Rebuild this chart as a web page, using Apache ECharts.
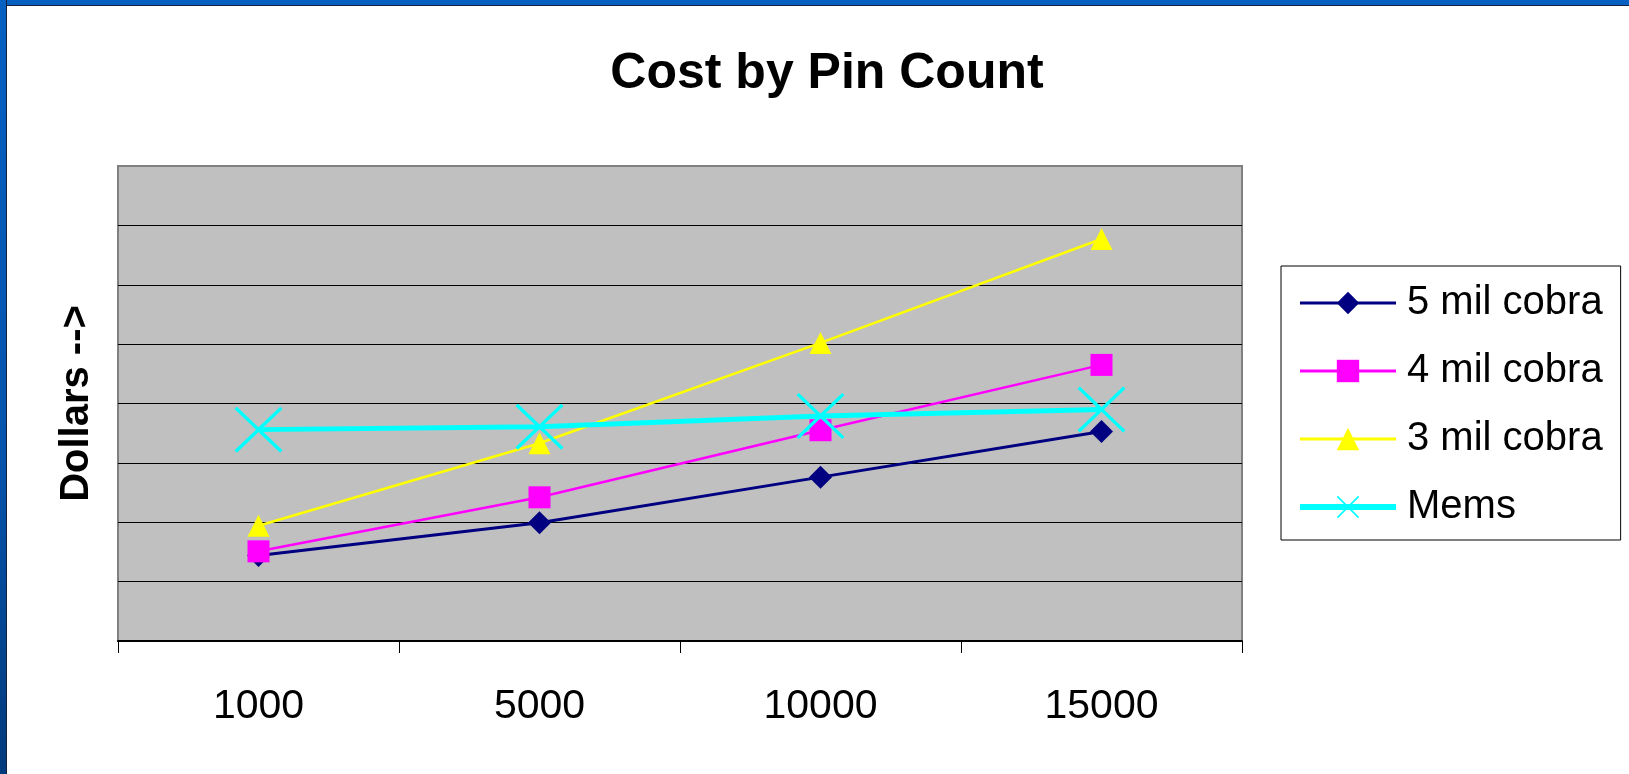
<!DOCTYPE html>
<html>
<head>
<meta charset="utf-8">
<script src="https://cdn.jsdelivr.net/npm/echarts@6/dist/echarts.min.js"></script>
<style>
  html, body { margin: 0; padding: 0; background: #ffffff; }
  #frameTop { position: absolute; left: 0; top: 0; width: 1629px; height: 5px; background: #0560c2; border-bottom: 1px solid #14213d; }
  #frameLeft { position: absolute; left: 0; top: 0; width: 6px; height: 774px; background: linear-gradient(#0560c2, #0553ab 60%, #023a7c); border-right: 1px solid #14213d; }
  #chart { position: absolute; left: 0; top: 0; width: 1629px; height: 774px; }
</style>
</head>
<body>
<div id="frameTop"></div>
<div id="frameLeft"></div>
<div id="chart"></div>
<script>
// ---- data ----
const categories = ['1000', '5000', '10000', '15000'];
const seriesNames = ['5 mil cobra', '4 mil cobra', '3 mil cobra', 'Mems'];
const cobra5 = [1.44, 1.99, 2.76, 3.53];
const cobra4 = [1.51, 2.42, 3.55, 4.65];
const cobra3 = [1.94, 3.33, 5.02, 6.77];
const mems   = [3.56, 3.61, 3.79, 3.90];

const font = 'Arial, "Liberation Sans", sans-serif';
const xPath = 'path://M0,0.5 L0.5,0 L10,9.5 L9.5,10 Z M9.5,0 L10,0.5 L0.5,10 L0,9.5 Z';

const chart = echarts.init(document.getElementById('chart'), null, { renderer: 'canvas' });
chart.setOption({
  backgroundColor: 'transparent',
  animation: false,
  title: {
    text: 'Cost by Pin Count',
    left: 822,
    textAlign: 'center',
    top: 44,
    textStyle: { fontFamily: font, fontWeight: 'bold', fontSize: 50, color: '#000', lineHeight: 50 }
  },
  legend: {
    orient: 'vertical',
    left: 1281,
    top: 266,
    padding: [17, 18, 13, 16],
    itemWidth: 96,
    itemHeight: 28,
    itemGap: 28,
    borderColor: '#000',
    borderWidth: 1,
    backgroundColor: '#fff',
    data: [
      { name: seriesNames[0], lineStyle: { width: 3 } },
      { name: seriesNames[1], lineStyle: { width: 3 } },
      { name: seriesNames[2], lineStyle: { width: 3 } },
      { name: seriesNames[3], lineStyle: { width: 6 } }
    ],
    textStyle: { fontFamily: font, fontSize: 40, color: '#000', lineHeight: 40, padding: [0, 0, 0, 6] }
  },
  grid: {
    left: 118, top: 166, right: 387, bottom: 133,
    show: true,
    backgroundColor: '#c0c0c0',
    borderColor: '#808080',
    borderWidth: 2
  },
  xAxis: {
    type: 'category',
    data: categories,
    boundaryGap: true,
    axisLine: { show: true, lineStyle: { color: '#000', width: 2 } },
    axisTick: { show: true, inside: false, length: 12, lineStyle: { color: '#000', width: 1 } },
    axisLabel: { fontFamily: font, fontSize: 41, color: '#000', margin: 45 },
    splitLine: { show: false }
  },
  yAxis: {
    type: 'value',
    min: 0, max: 8, interval: 1,
    name: 'Dollars -->',
    nameLocation: 'middle',
    nameGap: 21,
    nameTextStyle: { fontFamily: font, fontWeight: 'bold', fontSize: 40, color: '#000' },
    axisLabel: { show: false },
    axisTick: { show: false },
    axisLine: { show: false },
    splitLine: { show: true, showMinLine: false, showMaxLine: false, lineStyle: { color: '#000', width: 1 } }
  },
  series: [
    {
      name: seriesNames[0], type: 'line', data: cobra5,
      symbol: 'diamond', symbolSize: 23,
      lineStyle: { color: '#000080', width: 3 },
      itemStyle: { color: '#000080' }
    },
    {
      name: seriesNames[1], type: 'line', data: cobra4,
      symbol: 'rect', symbolSize: 22,
      lineStyle: { color: '#ff00ff', width: 2.5 },
      itemStyle: { color: '#ff00ff' }
    },
    {
      name: seriesNames[2], type: 'line', data: cobra3,
      symbol: 'triangle', symbolSize: 22,
      lineStyle: { color: '#ffff00', width: 2.5 },
      itemStyle: { color: '#ffff00' }
    },
    {
      name: seriesNames[3], type: 'line', data: mems,
      symbol: xPath, symbolSize: [48, 46],
      lineStyle: { color: '#00ffff', width: 5 },
      itemStyle: { color: '#00ffff' }
    }
  ]
});
</script>
</body>
</html>
